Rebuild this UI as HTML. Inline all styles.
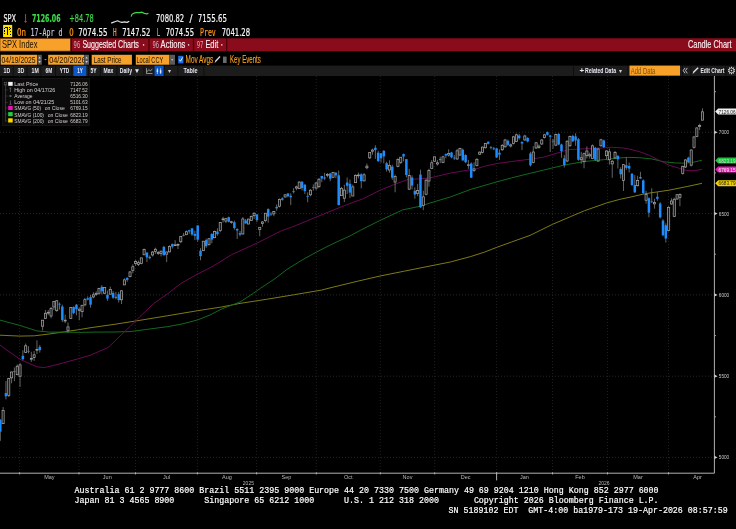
<!DOCTYPE html>
<html><head><meta charset="utf-8"><title>SPX Index Candle Chart</title>
<style>html,body{margin:0;padding:0;background:#000;width:736px;height:529px;overflow:hidden}svg{display:block}</style>
</head><body>
<svg width="736" height="529" viewBox="0 0 736 529" font-family="'Liberation Sans', Arial, sans-serif"><text x="3.40" y="21.90" font-size="10.9" fill="#f6f6f6" stroke="#f6f6f6" stroke-width="0.22" font-family="'DejaVu Sans', sans-serif" textLength="12.60" lengthAdjust="spacingAndGlyphs">SPX</text>
<rect x="25.05" y="14" width="1.0" height="8.2" fill="#e4281e"/><path d="M23.9 20.9 H27.1 L25.6 23.1 Z" fill="#e4281e"/>
<text x="32.00" y="21.90" font-size="11.0" fill="#3ddc4a" stroke="#3ddc4a" stroke-width="0.22" font-family="'DejaVu Sans', sans-serif" font-weight="bold" textLength="28.60" lengthAdjust="spacingAndGlyphs">7126.06</text>
<text x="69.30" y="21.90" font-size="10.9" fill="#3ddc4a" stroke="#3ddc4a" stroke-width="0.22" font-family="'DejaVu Sans', sans-serif" textLength="24.40" lengthAdjust="spacingAndGlyphs">+84.78</text>
<polyline points="111.2,23.1 113.1,22.4 115.4,21.5 117.7,20.8 119.6,21.7 121.9,22.4 124.6,21.9 127,22.4 129.3,21.2" stroke="#e0e0e0" stroke-width="1.2" fill="none" stroke-linejoin="round"/>
<polyline points="131.1,16.6 132,14.3 133.9,13.2 136.2,12.7 139.7,12.7 142,12.2 144.3,13.4 146.6,13.9 148.4,13.4" stroke="#3ad848" stroke-width="1.2" fill="none" stroke-linejoin="round"/>
<text x="156.00" y="21.90" font-size="10.9" fill="#f6f6f6" stroke="#f6f6f6" stroke-width="0.22" font-family="'DejaVu Sans', sans-serif" textLength="28.10" lengthAdjust="spacingAndGlyphs">7080.82</text>
<text x="189.60" y="21.90" font-size="10.9" fill="#f6f6f6" stroke="#f6f6f6" stroke-width="0.22" font-family="'DejaVu Sans', sans-serif" textLength="3.00" lengthAdjust="spacingAndGlyphs">/</text>
<text x="197.80" y="21.90" font-size="10.9" fill="#f6f6f6" stroke="#f6f6f6" stroke-width="0.22" font-family="'DejaVu Sans', sans-serif" textLength="29.20" lengthAdjust="spacingAndGlyphs">7155.65</text>
<rect x="3.1" y="24.9" width="9.1" height="12.2" fill="#ffe300"/>
<g fill="#0a0a0a"><rect x="5" y="27" width="1" height="1"/><rect x="4" y="28" width="1" height="1"/><rect x="4" y="30" width="1" height="1"/><rect x="4" y="31" width="1" height="1"/><rect x="4" y="33" width="1" height="1"/><rect x="6" y="27" width="1" height="1"/><rect x="9" y="27" width="1" height="1"/><rect x="10" y="28" width="1" height="1"/><rect x="9" y="29" width="1" height="1"/><rect x="10" y="31" width="1" height="1"/><rect x="10" y="34" width="1" height="1"/><rect x="7" y="27" width="1" height="8"/></g>
<text x="17.10" y="35.90" font-size="10.9" fill="#ff9a1c" stroke="#ff9a1c" stroke-width="0.22" font-family="'DejaVu Sans Mono', monospace" textLength="9.00" lengthAdjust="spacingAndGlyphs">On</text>
<text x="30.50" y="35.90" font-size="10.9" fill="#c4c4da" stroke="#c4c4da" stroke-width="0.22" font-family="'DejaVu Sans Mono', monospace" textLength="31.90" lengthAdjust="spacingAndGlyphs">17-Apr d</text>
<text x="69.20" y="35.90" font-size="10.9" fill="#ff9a1c" stroke="#ff9a1c" stroke-width="0.22" font-family="'DejaVu Sans Mono', monospace" textLength="4.40" lengthAdjust="spacingAndGlyphs">O</text>
<text x="78.30" y="35.90" font-size="10.9" fill="#f6f6f6" stroke="#f6f6f6" stroke-width="0.22" font-family="'DejaVu Sans', sans-serif" textLength="29.30" lengthAdjust="spacingAndGlyphs">7074.55</text>
<text x="113.00" y="35.90" font-size="10.9" fill="#ff9a1c" stroke="#ff9a1c" stroke-width="0.22" font-family="'DejaVu Sans Mono', monospace" textLength="3.60" lengthAdjust="spacingAndGlyphs">H</text>
<text x="122.20" y="35.90" font-size="10.9" fill="#f6f6f6" stroke="#f6f6f6" stroke-width="0.22" font-family="'DejaVu Sans', sans-serif" textLength="28.20" lengthAdjust="spacingAndGlyphs">7147.52</text>
<text x="156.70" y="35.90" font-size="10.9" fill="#ff9a1c" stroke="#ff9a1c" stroke-width="0.22" font-family="'DejaVu Sans Mono', monospace" textLength="3.50" lengthAdjust="spacingAndGlyphs">L</text>
<text x="165.70" y="35.90" font-size="10.9" fill="#f6f6f6" stroke="#f6f6f6" stroke-width="0.22" font-family="'DejaVu Sans', sans-serif" textLength="28.40" lengthAdjust="spacingAndGlyphs">7074.55</text>
<text x="200.00" y="35.90" font-size="10.9" fill="#ff9a1c" stroke="#ff9a1c" stroke-width="0.22" font-family="'DejaVu Sans Mono', monospace" textLength="15.80" lengthAdjust="spacingAndGlyphs">Prev</text>
<text x="221.70" y="35.90" font-size="10.9" fill="#f6f6f6" stroke="#f6f6f6" stroke-width="0.22" font-family="'DejaVu Sans', sans-serif" textLength="28.40" lengthAdjust="spacingAndGlyphs">7041.28</text>
<rect x="0" y="38.3" width="736" height="13" fill="#8a0b1b"/>
<rect x="0" y="38.5" width="70.7" height="12.6" fill="#f7a12a"/>
<rect x="0" y="38.5" width="70.7" height="12.6" fill="none" stroke="#5a3000" stroke-width="0.6"/>
<text x="2.00" y="48.30" font-size="11.2" fill="#1a1000" textLength="35.50" lengthAdjust="spacingAndGlyphs">SPX Index</text>
<rect x="70.60000000000001" y="38.3" width="1.2" height="13" fill="#4a0008"/>
<rect x="148.4" y="38.3" width="1.2" height="13" fill="#4a0008"/>
<rect x="192.9" y="38.3" width="1.2" height="13" fill="#4a0008"/>
<rect x="226.1" y="38.3" width="1.2" height="13" fill="#4a0008"/>
<text x="73.60" y="47.90" font-size="9.5" fill="#cdb4bc" font-family="'DejaVu Sans Mono', monospace" textLength="6.60" lengthAdjust="spacingAndGlyphs">96</text>
<text x="82.40" y="47.80" font-size="11.2" fill="#fbf4f6" stroke="#fbf4f6" stroke-width="0.15" textLength="56.50" lengthAdjust="spacingAndGlyphs">Suggested Charts</text>
<circle cx="143.6" cy="44.9" r="0.8" fill="#e8d0d4"/>
<text x="152.50" y="47.90" font-size="9.5" fill="#cdb4bc" font-family="'DejaVu Sans Mono', monospace" textLength="6.60" lengthAdjust="spacingAndGlyphs">96</text>
<text x="160.60" y="47.80" font-size="11.2" fill="#fbf4f6" stroke="#fbf4f6" stroke-width="0.15" textLength="24.80" lengthAdjust="spacingAndGlyphs">Actions</text>
<circle cx="188.6" cy="44.9" r="0.8" fill="#e8d0d4"/>
<text x="196.80" y="47.90" font-size="9.5" fill="#cdb4bc" font-family="'DejaVu Sans Mono', monospace" textLength="6.60" lengthAdjust="spacingAndGlyphs">97</text>
<text x="205.40" y="47.80" font-size="11.2" fill="#fbf4f6" stroke="#fbf4f6" stroke-width="0.15" textLength="12.80" lengthAdjust="spacingAndGlyphs">Edit</text>
<circle cx="221.8" cy="44.9" r="0.8" fill="#e8d0d4"/>
<text x="688.00" y="47.80" font-size="11.2" fill="#fbf4f6" stroke="#fbf4f6" stroke-width="0.15" textLength="43.50" lengthAdjust="spacingAndGlyphs">Candle Chart</text>
<rect x="0.7" y="54.8" width="36.30" height="9.9" fill="#f7a12a"/>
<text x="1.60" y="62.90" font-size="9" fill="#1a1000" textLength="34.00" lengthAdjust="spacingAndGlyphs">04/19/2025</text>
<rect x="37.4" y="54.8" width="4.4" height="9.9" fill="#5a5a5a"/><path d="M38.4 58.6 L39.6 56.6 L40.8 58.6 Z M38.4 60.9 L39.6 62.9 L40.8 60.9 Z" fill="#cfcfcf"/>
<rect x="44.6" y="59.2" width="1.8" height="0.9" fill="#f7a12a"/>
<rect x="48.2" y="54.8" width="35.8" height="9.9" fill="#f7a12a"/>
<svg x="48.2" y="54.8" width="35.8" height="9.9" overflow="hidden">
<text x="1.00" y="8.10" font-size="9" fill="#1a1000" textLength="36.50" lengthAdjust="spacingAndGlyphs">04/20/2026</text>
</svg>
<rect x="84.2" y="54.8" width="4.8" height="9.9" fill="#5a5a5a"/><path d="M85.4 58.6 L86.6 56.6 L87.8 58.6 Z M85.4 60.9 L86.6 62.9 L87.8 60.9 Z" fill="#cfcfcf"/>
<rect x="91.7" y="54.8" width="40.20" height="9.9" fill="#f7a12a"/>
<text x="93.80" y="62.90" font-size="9" fill="#1a1000" textLength="27.80" lengthAdjust="spacingAndGlyphs">Last Price</text>
<rect x="135.8" y="54.8" width="33.60" height="9.9" fill="#f7a12a"/>
<text x="136.40" y="62.90" font-size="9" fill="#1a1000" textLength="26.80" lengthAdjust="spacingAndGlyphs">Local CCY</text>
<rect x="169.4" y="54.8" width="5.6" height="9.9" fill="#5a5a5a"/><path d="M171 59.2 L172.2 60.8 L173.4 59.2 Z" fill="#d0d0d0"/>
<rect x="178.2" y="55.8" width="5.2" height="7.6" fill="#1d6fe0"/><path d="M179.2 59.6 L180.6 61.2 L182.6 57.4" stroke="#fff" stroke-width="0.9" fill="none"/>
<text x="185.60" y="63.00" font-size="10" fill="#ffa51f" stroke="#ffa51f" stroke-width="0.12" textLength="27.60" lengthAdjust="spacingAndGlyphs">Mov Avgs</text>
<path d="M214.5 63.2 L215.6 60.2 L219.5 56.0 L220.5 57.0 L216.6 61.3 Z" fill="#d8d8d8"/>
<rect x="223.0" y="56.6" width="3.6" height="6.4" fill="#6a6a6a"/>
<text x="230.00" y="63.00" font-size="10" fill="#ffa51f" stroke="#ffa51f" stroke-width="0.12" textLength="30.80" lengthAdjust="spacingAndGlyphs">Key Events</text>
<rect x="0" y="65.6" width="736" height="10.4" fill="#1c1c1c"/>
<rect x="12.8" y="65.6" width="0.8" height="10.4" fill="#0c0c0c"/>
<rect x="26.5" y="65.6" width="0.8" height="10.4" fill="#0c0c0c"/>
<rect x="40.5" y="65.6" width="0.8" height="10.4" fill="#0c0c0c"/>
<rect x="55.0" y="65.6" width="0.8" height="10.4" fill="#0c0c0c"/>
<rect x="71.5" y="65.6" width="0.8" height="10.4" fill="#0c0c0c"/>
<rect x="88.2" y="65.6" width="0.8" height="10.4" fill="#0c0c0c"/>
<rect x="100.0" y="65.6" width="0.8" height="10.4" fill="#0c0c0c"/>
<rect x="116.5" y="65.6" width="0.8" height="10.4" fill="#0c0c0c"/>
<rect x="143.5" y="65.6" width="0.8" height="10.4" fill="#0c0c0c"/>
<rect x="153.8" y="65.6" width="0.8" height="10.4" fill="#0c0c0c"/>
<rect x="164.0" y="65.6" width="0.8" height="10.4" fill="#0c0c0c"/>
<rect x="177.5" y="65.6" width="0.8" height="10.4" fill="#0c0c0c"/>
<rect x="203.5" y="65.6" width="0.8" height="10.4" fill="#0c0c0c"/>
<rect x="573.0" y="65.6" width="0.8" height="10.4" fill="#0c0c0c"/>
<rect x="627.5" y="65.6" width="0.8" height="10.4" fill="#0c0c0c"/>
<rect x="682.0" y="65.6" width="0.8" height="10.4" fill="#0c0c0c"/>
<rect x="690.5" y="65.6" width="0.8" height="10.4" fill="#0c0c0c"/>
<rect x="725.5" y="65.6" width="0.8" height="10.4" fill="#0c0c0c"/>
<rect x="73.4" y="65.6" width="12.9" height="10.4" fill="#0b57c8"/>
<rect x="154.5" y="65.6" width="9.0" height="10.4" fill="#0b57c8"/>
<text x="3.60" y="73.30" font-size="7" fill="#e6e6f0" font-weight="bold" textLength="6.60" lengthAdjust="spacingAndGlyphs">1D</text>
<text x="17.60" y="73.30" font-size="7" fill="#e6e6f0" font-weight="bold" textLength="6.80" lengthAdjust="spacingAndGlyphs">3D</text>
<text x="31.60" y="73.30" font-size="7" fill="#e6e6f0" font-weight="bold" textLength="7.20" lengthAdjust="spacingAndGlyphs">1M</text>
<text x="45.60" y="73.30" font-size="7" fill="#e6e6f0" font-weight="bold" textLength="6.80" lengthAdjust="spacingAndGlyphs">6M</text>
<text x="59.80" y="73.30" font-size="7" fill="#e6e6f0" font-weight="bold" textLength="9.50" lengthAdjust="spacingAndGlyphs">YTD</text>
<text x="77.20" y="73.30" font-size="7" fill="#e6e6f0" font-weight="bold" textLength="5.70" lengthAdjust="spacingAndGlyphs">1Y</text>
<text x="90.40" y="73.30" font-size="7" fill="#e6e6f0" font-weight="bold" textLength="6.10" lengthAdjust="spacingAndGlyphs">5Y</text>
<text x="103.60" y="73.30" font-size="7" fill="#e6e6f0" font-weight="bold" textLength="9.80" lengthAdjust="spacingAndGlyphs">Max</text>
<text x="119.80" y="73.30" font-size="7" fill="#e6e6f0" font-weight="bold" textLength="12.20" lengthAdjust="spacingAndGlyphs">Daily</text>
<text x="183.50" y="73.30" font-size="7" fill="#e6e6f0" font-weight="bold" textLength="14.00" lengthAdjust="spacingAndGlyphs">Table</text>
<text x="133.80" y="73.40" font-size="6.5" fill="#e6e6f0">▼</text>
<path d="M146.5 73.5 V68.2 M146.5 73.5 H152.5 M147 71.8 L148.8 69.6 L150.5 71.0 L152.3 68.8" stroke="#bdbdbd" stroke-width="0.7" fill="none"/>
<path d="M157.4 68.2 V74 M160.6 68.2 V74" stroke="#e8e8f0" stroke-width="0.7"/><rect x="156.7" y="69.5" width="1.4" height="2.6" fill="#e8e8f0"/><rect x="159.9" y="70.2" width="1.4" height="2.6" fill="#e8e8f0"/>
<text x="168.30" y="72.80" font-size="6" fill="#d0d0d0">▾</text>
<text x="579.50" y="73.30" font-size="8" fill="#e6e6f0" font-weight="bold">+</text>
<text x="585.00" y="73.30" font-size="7" fill="#e6e6f0" font-weight="bold" textLength="31.00" lengthAdjust="spacingAndGlyphs">Related Data</text>
<text x="619.00" y="72.80" font-size="6" fill="#d0d0d0">▾</text>
<rect x="629.5" y="65.6" width="50.5" height="10.0" fill="#f7a12a"/>
<text x="630.80" y="73.90" font-size="9.8" fill="#7e5208" textLength="24.60" lengthAdjust="spacingAndGlyphs">Add Data</text>
<path d="M685.0 67.9 L683.2 70.6 L685.0 73.3 M687.3 67.9 L685.5 70.6 L687.3 73.3" stroke="#d8d8d8" stroke-width="0.85" fill="none"/>
<path d="M692.6 74 L693.3 71.6 L697.6 67.3 L698.6 68.3 L694.3 72.6 Z" fill="#e8e8e8"/>
<text x="700.50" y="73.30" font-size="7" fill="#e6e6f0" font-weight="bold" textLength="23.80" lengthAdjust="spacingAndGlyphs">Edit Chart</text>
<text x="726.60" y="74.20" font-size="9.5" fill="#d8d8d8">⚙</text>
<g stroke="#2a2a2a" stroke-width="0.9" stroke-dasharray="1 2">
<line x1="0" y1="132.3" x2="714" y2="132.3"/>
<line x1="0" y1="213.6" x2="714" y2="213.6"/>
<line x1="0" y1="294.9" x2="714" y2="294.9"/>
<line x1="0" y1="376.2" x2="714" y2="376.2"/>
<line x1="0" y1="457.4" x2="714" y2="457.4"/>
</g><g stroke="#222" stroke-width="0.9" stroke-dasharray="1 2">
<line x1="19.6" y1="76" x2="19.6" y2="473"/>
<line x1="79.0" y1="76" x2="79.0" y2="473"/>
<line x1="135.5" y1="76" x2="135.5" y2="473"/>
<line x1="197.4" y1="76" x2="197.4" y2="473"/>
<line x1="256.6" y1="76" x2="256.6" y2="473"/>
<line x1="316.3" y1="76" x2="316.3" y2="473"/>
<line x1="380.3" y1="76" x2="380.3" y2="473"/>
<line x1="434.7" y1="76" x2="434.7" y2="473"/>
<line x1="496.6" y1="76" x2="496.6" y2="473"/>
<line x1="552.5" y1="76" x2="552.5" y2="473"/>
<line x1="607.5" y1="76" x2="607.5" y2="473"/>
<line x1="668.5" y1="76" x2="668.5" y2="473"/>
</g>
<polyline points="0,335.2 19.7,336.1 34.4,335.8 49.2,334 64,331.9 78.7,329.7 90,327.8 114,324.4 140,320.3 167.2,315.8 197.7,310.7 221.5,307 240,303.4 267.2,299.2 294.3,294.7 321.5,290.1 330,287.9 357.2,281.3 381,275.8 404.7,271.1 430,266 450.4,262 470.8,256.5 484.3,252.2 496.6,247.4 511.5,242 530,235.4 552.4,224.4 570.8,216.5 584.3,210.8 606.8,202.9 620,199.3 630,197.2 644.5,193.8 668.9,190.2 687.2,186.5 702,183.3" stroke="#7f7a12" stroke-width="1.0" fill="none" stroke-linejoin="round"/>
<polyline points="0,320.1 19.7,325.4 36.9,330.9 49.2,332.1 64,332.1 78.7,332.4 95,332.1 114,332 130,331.6 146.8,329.4 167.2,326.7 182,324 197.7,319.9 210,315 221.5,309 240,302 253.6,293.1 260.4,288.3 274.5,279 287,269.4 300.6,260.9 316,252.3 326.8,246.7 338.1,241.3 350,235.9 360.3,230.3 379.9,220.5 402.6,209.9 420.8,206.1 430,203 450.4,196.9 470.8,189.4 496.6,181.9 511.5,177.9 530,173.3 543.6,170.1 564,165.1 584.3,161.5 604.7,159.6 615,158.3 627.2,157.4 639.4,157.7 651.7,158.9 663.9,161.8 676.1,163 685.9,163.2 694.5,162 702,160.2" stroke="#126a1e" stroke-width="1.0" fill="none" stroke-linejoin="round"/>
<polyline points="0,345.1 19.7,359.2 36.9,366.8 44.3,367.6 59,364.1 78.7,358.6 90,355.3 108,347.6 122,334.2 130,326.5 140,316.5 153.6,303.6 167.2,294.1 180.8,283.5 197,274.3 210.9,267.4 231.6,254.7 257,243.1 270,236.5 281.4,230.8 292.7,226.8 309.2,220 330,211.4 345.1,205.4 363.3,198.6 379.9,190.3 395,184.2 407.2,179.7 417.7,178.9 430,177.9 450.4,173.1 468,170.1 473.5,169.7 484.3,166.3 496.6,163.6 511.5,161.5 530,159.2 543.6,157.2 557.2,153.1 568,149.7 584.3,148.8 597.9,148.3 611.5,147.3 622.4,147.9 627.2,148.6 639.4,151.6 649.2,155.3 659,160.2 668.8,165.1 678.6,168.1 685.9,170.3 693.2,170.8 702,169.4" stroke="#6a0852" stroke-width="1.0" fill="none" stroke-linejoin="round"/>
<path d="M0.30 419.54V440.88M3.12 407.07V423.64M5.94 381.05V399.40M8.76 377.85V396.94M11.58 371.56V383.30M14.40 367.40V381.22M17.22 364.43V375.20M20.04 362.82V386.98M22.86 350.29V360.30M25.68 343.50V352.99M28.50 346.24V353.34M31.32 351.76V361.91M34.14 351.01V360.91M36.96 340.35V354.05M39.78 344.97V352.64M42.60 320.18V330.52M45.42 310.03V318.73M48.24 310.05V315.17M51.06 307.06V318.27M53.88 301.62V310.02M56.70 299.95V311.81M59.52 302.48V309.60M62.34 304.63V322.03M65.16 314.67V323.16M67.98 322.56V332.66M70.80 307.15V318.57M73.62 306.39V314.19M76.44 304.09V315.36M79.26 307.51V320.26M82.08 305.03V317.37M84.90 297.88V306.39M87.72 296.40V300.36M90.54 294.90V307.66M93.36 292.11V298.32M96.18 291.39V295.80M99.00 287.86V294.81M101.82 285.19V294.47M104.64 287.47V294.22M107.46 290.60V300.83M110.28 286.59V294.20M113.10 291.07V298.95M115.92 291.88V299.42M118.74 291.89V302.56M121.56 290.27V304.08M124.38 278.34V284.90M127.20 277.21V281.83M130.02 271.03V277.41M132.84 264.34V273.34M135.66 259.89V265.92M138.48 260.59V266.06M141.30 257.85V264.24M144.12 248.58V254.79M146.94 252.21V262.06M149.76 255.40V259.42M152.58 251.00V256.51M155.40 247.67V253.91M158.22 251.05V254.98M161.04 250.56V256.38M163.86 245.86V255.40M166.68 251.59V262.08M169.50 245.37V252.42M172.32 243.55V248.47M175.14 240.22V245.47M177.96 243.46V249.06M180.78 236.23V243.24M183.60 232.87V236.24M186.42 230.51V234.95M189.24 229.66V233.80M192.06 228.23V235.72M194.88 230.75V240.07M197.70 225.44V241.77M200.52 248.17V260.28M203.34 241.13V250.68M206.16 238.59V247.81M208.98 237.93V245.73M211.80 233.18V243.27M214.62 230.62V237.86M217.44 228.32V235.67M220.26 222.26V232.14M223.08 216.78V222.51M225.90 217.83V223.15M228.72 216.61V222.51M231.54 220.83V223.72M234.36 220.64V229.79M237.18 228.46V238.96M240.00 230.90V236.32M242.82 217.06V234.59M245.64 218.96V223.64M248.46 218.77V224.06M251.28 215.57V220.67M254.10 212.24V218.92M256.92 214.38V222.19M259.74 227.14V236.24M262.56 221.11V226.74M265.38 213.16V222.42M268.20 208.27V222.79M271.02 212.18V215.93M273.84 211.44V216.25M276.66 204.48V210.66M279.48 198.48V207.44M282.30 197.29V200.66M285.12 194.07V197.38M287.94 192.93V197.29M290.76 193.30V205.14M293.58 188.18V193.36M296.40 185.65V190.25M299.22 181.14V188.71M302.04 181.52V190.34M304.86 184.29V194.10M307.68 192.36V202.32M310.50 189.19V196.31M313.32 184.39V190.58M316.14 182.19V190.11M318.96 178.04V188.18M321.78 175.87V182.17M324.60 172.80V180.14M327.42 173.02V177.31M330.24 172.84V181.16M333.06 172.33V178.06M335.88 172.12V178.17M338.70 170.51V205.32M341.52 186.86V195.65M344.34 184.71V202.09M347.16 177.44V194.02M349.98 179.56V198.04M352.80 184.60V196.04M355.62 174.27V182.78M358.44 172.51V178.36M361.26 173.30V188.41M364.08 172.94V181.35M366.90 163.61V169.40M369.72 152.59V159.02M372.54 148.68V154.68M375.36 145.25V158.79M378.18 150.76V161.80M381.00 153.21V162.65M383.82 150.02V163.43M386.64 161.84V171.55M389.46 160.26V172.77M392.28 164.65V179.76M395.10 174.56V192.28M397.92 158.31V167.25M400.74 157.17V164.00M403.56 153.59V161.40M406.38 158.96V177.33M409.20 168.87V189.84M412.02 175.38V189.36M414.84 187.40V198.78M417.66 183.83V196.18M420.48 169.69V207.89M423.30 190.66V210.16M426.12 178.63V195.37M428.94 168.71V186.59M431.76 160.10V168.55M434.58 156.85V161.88M437.40 159.93V165.62M440.22 156.68V163.18M443.04 155.71V163.18M445.86 153.43V158.31M448.68 149.37V156.68M451.50 151.81V158.31M454.32 155.06V159.93M457.14 148.88V159.93M459.96 147.74V155.87M462.78 148.56V160.75M465.60 154.24V163.18M468.42 159.93V168.87M471.24 162.37V178.14M474.06 162.37V172.12M476.88 158.31V166.44M479.70 151.48V155.06M482.52 146.60V153.43M485.34 143.03V148.56M488.16 141.08V144.49M490.98 146.12V149.37M493.80 146.93V150.18M496.62 147.74V157.82M499.44 149.37V159.93M502.26 144.00V150.99M505.08 138.80V147.74M507.90 139.61V146.12M510.72 143.52V147.50M513.54 135.88V144.49M516.36 133.60V142.05M519.18 133.93V139.61M522.00 141.24V150.02M524.82 134.74V140.75M527.64 137.18V142.38M530.46 151.81V166.44M533.28 146.12V163.35M536.10 142.05V148.88M538.92 144.49V148.56M541.74 139.13V144.98M544.56 133.93V138.48M547.38 131.49V135.55M550.20 134.74V152.00M553.02 138.80V148.72M555.84 133.60V146.12M558.66 133.11V145.30M561.48 143.68V157.71M564.30 155.06V167.57M567.12 140.43V162.37M569.94 135.55V146.60M572.76 134.74V142.05M575.58 133.19V145.79M578.40 137.99V160.75M581.22 151.81V163.67M584.04 152.62V168.30M586.86 146.51V158.41M589.68 152.62V158.47M592.50 144.49V159.12M595.32 146.93V160.75M598.14 147.74V161.88M600.96 138.80V146.60M603.78 139.61V148.07M606.60 150.18V159.71M609.42 148.56V164.65M612.24 159.93V177.81M615.06 150.99V158.63M617.88 155.06V168.55M620.70 167.25V178.46M623.52 164.00V190.98M626.34 157.33V169.85M629.16 162.60V172.50M631.98 172.94V185.94M634.80 175.10V193.00M637.62 175.80V186.43M640.44 171.80V179.00M643.26 179.44V194.07M646.08 190.90V203.59M648.90 197.32V217.31M651.72 188.22V202.85M654.54 198.78V208.70M657.36 192.20V200.80M660.18 202.20V218.45M663.00 219.26V236.33M665.82 223.33V242.51M668.64 206.26V231.46M671.46 198.20V204.80M674.28 197.65V217.15M677.10 194.07V199.76M679.92 193.42V206.26M682.74 165.62V174.56M685.56 159.12V168.06M688.38 156.68V162.86M691.20 149.37V166.44M694.02 136.36V148.56M696.84 127.42V137.18M699.66 123.68V130.19M702.48 108.32V120.18" stroke="#868686" stroke-width="0.75" fill="none"/>
<g fill="#141414" stroke="#a2a2a2" stroke-width="0.75"><rect x="2.07" y="410.62" width="2.1" height="13.02"/><rect x="7.71" y="378.60" width="2.1" height="16.81"/><rect x="10.53" y="372.03" width="2.1" height="5.77"/><rect x="16.17" y="366.24" width="2.1" height="8.45"/><rect x="18.99" y="364.90" width="2.1" height="11.32"/><rect x="24.63" y="345.78" width="2.1" height="6.69"/><rect x="30.27" y="358.43" width="2.1" height="0.80"/><rect x="33.09" y="354.79" width="2.1" height="2.70"/><rect x="35.91" y="349.40" width="2.1" height="0.80"/><rect x="41.55" y="320.18" width="2.1" height="6.03"/><rect x="44.37" y="313.29" width="2.1" height="5.27"/><rect x="47.19" y="312.31" width="2.1" height="0.82"/><rect x="50.01" y="308.35" width="2.1" height="7.65"/><rect x="52.83" y="301.62" width="2.1" height="5.35"/><rect x="55.65" y="300.77" width="2.1" height="9.87"/><rect x="64.11" y="320.19" width="2.1" height="0.80"/><rect x="66.93" y="326.90" width="2.1" height="3.40"/><rect x="69.75" y="307.60" width="2.1" height="10.97"/><rect x="78.21" y="309.20" width="2.1" height="1.30"/><rect x="81.03" y="305.26" width="2.1" height="6.38"/><rect x="83.85" y="299.67" width="2.1" height="5.17"/><rect x="92.31" y="294.79" width="2.1" height="2.16"/><rect x="95.13" y="293.60" width="2.1" height="0.80"/><rect x="97.95" y="288.54" width="2.1" height="4.70"/><rect x="103.59" y="287.49" width="2.1" height="5.75"/><rect x="109.23" y="289.47" width="2.1" height="4.73"/><rect x="120.51" y="290.76" width="2.1" height="9.02"/><rect x="123.33" y="279.87" width="2.1" height="5.03"/><rect x="128.97" y="271.93" width="2.1" height="4.70"/><rect x="131.79" y="266.72" width="2.1" height="3.64"/><rect x="134.61" y="261.54" width="2.1" height="1.88"/><rect x="137.43" y="262.66" width="2.1" height="1.75"/><rect x="140.25" y="257.88" width="2.1" height="5.48"/><rect x="143.07" y="249.44" width="2.1" height="5.35"/><rect x="151.53" y="252.06" width="2.1" height="2.89"/><rect x="154.35" y="249.26" width="2.1" height="2.25"/><rect x="157.17" y="252.56" width="2.1" height="0.80"/><rect x="159.99" y="251.20" width="2.1" height="2.18"/><rect x="165.63" y="251.99" width="2.1" height="2.20"/><rect x="168.45" y="246.51" width="2.1" height="5.34"/><rect x="174.09" y="244.84" width="2.1" height="0.80"/><rect x="176.91" y="244.37" width="2.1" height="0.80"/><rect x="179.73" y="236.51" width="2.1" height="5.20"/><rect x="185.37" y="231.68" width="2.1" height="3.03"/><rect x="202.29" y="241.22" width="2.1" height="9.47"/><rect x="207.93" y="238.76" width="2.1" height="5.81"/><rect x="213.57" y="231.54" width="2.1" height="6.15"/><rect x="219.21" y="222.39" width="2.1" height="8.22"/><rect x="222.03" y="218.89" width="2.1" height="0.80"/><rect x="224.85" y="218.69" width="2.1" height="2.40"/><rect x="230.49" y="221.71" width="2.1" height="0.80"/><rect x="241.77" y="218.95" width="2.1" height="15.04"/><rect x="247.41" y="219.11" width="2.1" height="4.95"/><rect x="250.23" y="216.60" width="2.1" height="3.94"/><rect x="253.05" y="213.27" width="2.1" height="2.43"/><rect x="258.69" y="227.30" width="2.1" height="2.28"/><rect x="261.51" y="221.99" width="2.1" height="1.42"/><rect x="264.33" y="213.24" width="2.1" height="7.41"/><rect x="272.79" y="211.53" width="2.1" height="2.35"/><rect x="278.43" y="199.36" width="2.1" height="6.90"/><rect x="284.07" y="194.84" width="2.1" height="2.19"/><rect x="295.35" y="186.86" width="2.1" height="1.17"/><rect x="298.17" y="182.08" width="2.1" height="6.58"/><rect x="309.45" y="190.22" width="2.1" height="4.61"/><rect x="315.09" y="182.94" width="2.1" height="5.12"/><rect x="317.91" y="179.24" width="2.1" height="7.42"/><rect x="326.37" y="174.47" width="2.1" height="0.80"/><rect x="332.01" y="172.33" width="2.1" height="4.90"/><rect x="340.47" y="188.43" width="2.1" height="7.22"/><rect x="343.29" y="190.12" width="2.1" height="8.12"/><rect x="351.75" y="186.92" width="2.1" height="9.12"/><rect x="354.57" y="175.35" width="2.1" height="7.30"/><rect x="357.39" y="174.97" width="2.1" height="0.80"/><rect x="363.03" y="174.82" width="2.1" height="6.07"/><rect x="365.85" y="166.16" width="2.1" height="1.61"/><rect x="368.67" y="152.59" width="2.1" height="5.27"/><rect x="371.49" y="150.04" width="2.1" height="1.18"/><rect x="388.41" y="165.41" width="2.1" height="4.60"/><rect x="394.05" y="176.38" width="2.1" height="5.66"/><rect x="396.87" y="159.54" width="2.1" height="7.06"/><rect x="399.69" y="157.23" width="2.1" height="5.14"/><rect x="408.15" y="175.52" width="2.1" height="13.67"/><rect x="416.61" y="190.47" width="2.1" height="3.11"/><rect x="422.25" y="196.83" width="2.1" height="8.61"/><rect x="425.07" y="180.23" width="2.1" height="14.00"/><rect x="427.89" y="170.36" width="2.1" height="10.71"/><rect x="430.71" y="162.76" width="2.1" height="5.79"/><rect x="433.53" y="156.83" width="2.1" height="4.40"/><rect x="436.35" y="162.76" width="2.1" height="1.24"/><rect x="441.99" y="156.85" width="2.1" height="5.53"/><rect x="447.63" y="153.43" width="2.1" height="1.63"/><rect x="456.09" y="150.83" width="2.1" height="8.13"/><rect x="458.91" y="148.39" width="2.1" height="6.66"/><rect x="467.37" y="164.81" width="2.1" height="0.81"/><rect x="473.01" y="168.87" width="2.1" height="1.63"/><rect x="475.83" y="159.28" width="2.1" height="6.34"/><rect x="478.65" y="152.13" width="2.1" height="2.11"/><rect x="481.47" y="147.09" width="2.1" height="5.36"/><rect x="484.29" y="143.35" width="2.1" height="4.39"/><rect x="501.21" y="145.40" width="2.1" height="4.29"/><rect x="504.03" y="140.00" width="2.1" height="6.79"/><rect x="509.67" y="144.82" width="2.1" height="1.19"/><rect x="512.49" y="136.80" width="2.1" height="6.71"/><rect x="515.31" y="134.80" width="2.1" height="6.70"/><rect x="523.77" y="136.01" width="2.1" height="4.00"/><rect x="532.23" y="152.00" width="2.1" height="10.60"/><rect x="535.05" y="142.80" width="2.1" height="5.20"/><rect x="537.87" y="146.12" width="2.1" height="1.30"/><rect x="540.69" y="140.00" width="2.1" height="4.00"/><rect x="543.51" y="134.80" width="2.1" height="2.70"/><rect x="554.79" y="134.61" width="2.1" height="10.53"/><rect x="566.07" y="141.21" width="2.1" height="19.80"/><rect x="568.89" y="136.53" width="2.1" height="9.27"/><rect x="580.17" y="157.71" width="2.1" height="2.00"/><rect x="582.99" y="153.69" width="2.1" height="8.03"/><rect x="585.81" y="150.99" width="2.1" height="4.71"/><rect x="588.63" y="154.73" width="2.1" height="1.14"/><rect x="591.45" y="145.79" width="2.1" height="12.61"/><rect x="597.09" y="148.99" width="2.1" height="12.01"/><rect x="599.91" y="139.79" width="2.1" height="6.00"/><rect x="605.55" y="150.99" width="2.1" height="4.71"/><rect x="608.37" y="151.81" width="2.1" height="7.90"/><rect x="611.19" y="161.23" width="2.1" height="2.67"/><rect x="614.01" y="152.62" width="2.1" height="5.36"/><rect x="622.47" y="164.65" width="2.1" height="15.77"/><rect x="636.57" y="180.41" width="2.1" height="5.28"/><rect x="645.03" y="194.56" width="2.1" height="5.69"/><rect x="653.49" y="202.60" width="2.1" height="1.30"/><rect x="667.59" y="207.40" width="2.1" height="23.20"/><rect x="670.41" y="200.99" width="2.1" height="2.99"/><rect x="673.23" y="199.27" width="2.1" height="17.07"/><rect x="676.05" y="194.72" width="2.1" height="4.28"/><rect x="678.87" y="194.39" width="2.1" height="2.93"/><rect x="681.69" y="166.31" width="2.1" height="7.12"/><rect x="684.51" y="159.93" width="2.1" height="7.07"/><rect x="690.15" y="150.02" width="2.1" height="15.18"/><rect x="692.97" y="136.90" width="2.1" height="10.40"/><rect x="695.79" y="127.91" width="2.1" height="8.45"/><rect x="698.61" y="125.59" width="2.1" height="0.86"/><rect x="701.43" y="111.81" width="2.1" height="8.37"/></g>
<g fill="#1c8cff"><rect x="-0.95" y="419.54" width="2.5" height="12.15"/><rect x="4.69" y="393.04" width="2.5" height="3.26"/><rect x="13.15" y="371.01" width="2.5" height="0.80"/><rect x="21.61" y="355.78" width="2.5" height="3.41"/><rect x="27.25" y="350.88" width="2.5" height="0.80"/><rect x="38.53" y="346.89" width="2.5" height="3.24"/><rect x="58.27" y="303.79" width="2.5" height="0.80"/><rect x="61.09" y="306.55" width="2.5" height="13.56"/><rect x="72.37" y="306.96" width="2.5" height="6.00"/><rect x="75.19" y="304.71" width="2.5" height="4.42"/><rect x="86.47" y="298.27" width="2.5" height="1.32"/><rect x="89.29" y="297.18" width="2.5" height="7.54"/><rect x="100.57" y="286.82" width="2.5" height="4.41"/><rect x="106.21" y="294.76" width="2.5" height="3.83"/><rect x="111.85" y="292.88" width="2.5" height="4.78"/><rect x="114.67" y="296.81" width="2.5" height="1.15"/><rect x="117.49" y="294.13" width="2.5" height="5.94"/><rect x="125.95" y="277.91" width="2.5" height="1.96"/><rect x="145.69" y="252.63" width="2.5" height="4.84"/><rect x="148.51" y="256.87" width="2.5" height="1.32"/><rect x="162.61" y="246.85" width="2.5" height="8.38"/><rect x="171.07" y="243.98" width="2.5" height="2.62"/><rect x="182.35" y="234.93" width="2.5" height="0.85"/><rect x="187.99" y="230.21" width="2.5" height="1.29"/><rect x="190.81" y="228.31" width="2.5" height="6.26"/><rect x="193.63" y="233.92" width="2.5" height="1.94"/><rect x="196.45" y="225.44" width="2.5" height="14.24"/><rect x="199.27" y="250.68" width="2.5" height="5.48"/><rect x="204.91" y="240.10" width="2.5" height="6.11"/><rect x="210.55" y="234.01" width="2.5" height="5.58"/><rect x="216.19" y="231.51" width="2.5" height="2.64"/><rect x="227.47" y="217.14" width="2.5" height="4.60"/><rect x="233.11" y="222.22" width="2.5" height="5.76"/><rect x="235.93" y="228.92" width="2.5" height="1.59"/><rect x="238.75" y="233.06" width="2.5" height="1.62"/><rect x="244.39" y="220.46" width="2.5" height="2.98"/><rect x="255.67" y="214.38" width="2.5" height="5.66"/><rect x="266.95" y="209.11" width="2.5" height="7.47"/><rect x="269.77" y="213.72" width="2.5" height="0.80"/><rect x="275.41" y="206.83" width="2.5" height="1.54"/><rect x="281.05" y="198.23" width="2.5" height="1.64"/><rect x="286.69" y="193.47" width="2.5" height="2.75"/><rect x="289.51" y="195.81" width="2.5" height="1.45"/><rect x="292.33" y="191.19" width="2.5" height="0.94"/><rect x="300.79" y="181.58" width="2.5" height="6.49"/><rect x="303.61" y="184.66" width="2.5" height="6.49"/><rect x="306.43" y="195.88" width="2.5" height="0.80"/><rect x="312.07" y="186.94" width="2.5" height="0.80"/><rect x="320.53" y="175.98" width="2.5" height="2.59"/><rect x="323.35" y="177.47" width="2.5" height="1.03"/><rect x="328.99" y="173.58" width="2.5" height="5.11"/><rect x="334.63" y="172.74" width="2.5" height="2.62"/><rect x="337.45" y="175.29" width="2.5" height="29.75"/><rect x="345.91" y="182.55" width="2.5" height="3.22"/><rect x="348.73" y="183.80" width="2.5" height="8.79"/><rect x="360.01" y="174.33" width="2.5" height="6.83"/><rect x="374.11" y="147.74" width="2.5" height="2.34"/><rect x="376.93" y="152.69" width="2.5" height="8.49"/><rect x="379.75" y="153.21" width="2.5" height="5.07"/><rect x="382.57" y="150.86" width="2.5" height="5.50"/><rect x="385.39" y="163.23" width="2.5" height="6.20"/><rect x="391.03" y="166.60" width="2.5" height="11.16"/><rect x="402.31" y="154.08" width="2.5" height="2.45"/><rect x="405.13" y="159.12" width="2.5" height="15.85"/><rect x="410.77" y="177.49" width="2.5" height="8.06"/><rect x="413.59" y="190.82" width="2.5" height="3.69"/><rect x="419.23" y="174.56" width="2.5" height="32.71"/><rect x="438.97" y="158.96" width="2.5" height="1.14"/><rect x="444.61" y="154.08" width="2.5" height="1.46"/><rect x="450.25" y="152.46" width="2.5" height="4.88"/><rect x="453.07" y="157.66" width="2.5" height="0.80"/><rect x="461.53" y="149.69" width="2.5" height="10.73"/><rect x="464.35" y="155.06" width="2.5" height="7.15"/><rect x="469.99" y="163.51" width="2.5" height="14.14"/><rect x="486.91" y="141.89" width="2.5" height="1.95"/><rect x="489.73" y="146.93" width="2.5" height="0.81"/><rect x="492.55" y="148.39" width="2.5" height="0.81"/><rect x="495.37" y="148.39" width="2.5" height="9.10"/><rect x="498.19" y="152.70" width="2.5" height="2.03"/><rect x="506.65" y="140.80" width="2.5" height="4.01"/><rect x="517.93" y="135.50" width="2.5" height="2.70"/><rect x="520.75" y="142.00" width="2.5" height="1.51"/><rect x="526.39" y="137.99" width="2.5" height="3.51"/><rect x="529.21" y="153.43" width="2.5" height="11.87"/><rect x="546.13" y="132.20" width="2.5" height="2.60"/><rect x="548.95" y="135.50" width="2.5" height="1.30"/><rect x="551.77" y="140.75" width="2.5" height="0.80"/><rect x="557.41" y="133.93" width="2.5" height="10.57"/><rect x="560.23" y="144.49" width="2.5" height="6.50"/><rect x="563.05" y="158.41" width="2.5" height="6.60"/><rect x="571.51" y="135.88" width="2.5" height="5.36"/><rect x="574.33" y="136.36" width="2.5" height="4.06"/><rect x="577.15" y="139.21" width="2.5" height="20.50"/><rect x="594.07" y="147.81" width="2.5" height="11.90"/><rect x="602.53" y="140.49" width="2.5" height="6.60"/><rect x="616.63" y="156.03" width="2.5" height="3.25"/><rect x="619.45" y="169.04" width="2.5" height="5.27"/><rect x="625.09" y="165.20" width="2.5" height="2.70"/><rect x="627.91" y="165.95" width="2.5" height="2.60"/><rect x="630.73" y="173.80" width="2.5" height="11.20"/><rect x="633.55" y="185.00" width="2.5" height="7.28"/><rect x="639.19" y="177.00" width="2.5" height="1.46"/><rect x="642.01" y="180.41" width="2.5" height="12.58"/><rect x="647.65" y="198.20" width="2.5" height="14.50"/><rect x="650.47" y="201.47" width="2.5" height="0.80"/><rect x="656.11" y="196.83" width="2.5" height="1.95"/><rect x="658.93" y="203.50" width="2.5" height="13.82"/><rect x="661.75" y="220.60" width="2.5" height="14.60"/><rect x="664.57" y="225.28" width="2.5" height="13.22"/><rect x="687.13" y="157.71" width="2.5" height="4.34"/></g>
<path d="M0 473.2 H714.4 V76" stroke="#b0b0b0" stroke-width="1" fill="none"/>
<rect x="19.1" y="472.4" width="1" height="2" fill="#b0b0b0"/>
<rect x="78.5" y="472.4" width="1" height="2" fill="#b0b0b0"/>
<rect x="135.0" y="472.4" width="1" height="2" fill="#b0b0b0"/>
<rect x="196.9" y="472.4" width="1" height="2" fill="#b0b0b0"/>
<rect x="256.1" y="472.4" width="1" height="2" fill="#b0b0b0"/>
<rect x="315.8" y="472.4" width="1" height="2" fill="#b0b0b0"/>
<rect x="379.8" y="472.4" width="1" height="2" fill="#b0b0b0"/>
<rect x="434.2" y="472.4" width="1" height="2" fill="#b0b0b0"/>
<rect x="496.1" y="472.4" width="1" height="2" fill="#b0b0b0"/>
<rect x="552.0" y="472.4" width="1" height="2" fill="#b0b0b0"/>
<rect x="607.0" y="472.4" width="1" height="2" fill="#b0b0b0"/>
<rect x="668.0" y="472.4" width="1" height="2" fill="#b0b0b0"/>
<rect x="496.1" y="472.4" width="1" height="8" fill="#b0b0b0"/>
<text x="49.40" y="479.20" font-size="5.5" fill="#b8b8b8" text-anchor="middle">May</text>
<text x="107.30" y="479.20" font-size="5.5" fill="#b8b8b8" text-anchor="middle">Jun</text>
<text x="166.40" y="479.20" font-size="5.5" fill="#b8b8b8" text-anchor="middle">Jul</text>
<text x="227.00" y="479.20" font-size="5.5" fill="#b8b8b8" text-anchor="middle">Aug</text>
<text x="286.50" y="479.20" font-size="5.5" fill="#b8b8b8" text-anchor="middle">Sep</text>
<text x="348.30" y="479.20" font-size="5.5" fill="#b8b8b8" text-anchor="middle">Oct</text>
<text x="407.50" y="479.20" font-size="5.5" fill="#b8b8b8" text-anchor="middle">Nov</text>
<text x="465.60" y="479.20" font-size="5.5" fill="#b8b8b8" text-anchor="middle">Dec</text>
<text x="524.50" y="479.20" font-size="5.5" fill="#b8b8b8" text-anchor="middle">Jan</text>
<text x="580.00" y="479.20" font-size="5.5" fill="#b8b8b8" text-anchor="middle">Feb</text>
<text x="638.00" y="479.20" font-size="5.5" fill="#b8b8b8" text-anchor="middle">Mar</text>
<text x="697.50" y="479.20" font-size="5.5" fill="#b8b8b8" text-anchor="middle">Apr</text>
<text x="248.40" y="484.80" font-size="5" fill="#b8b8b8" text-anchor="middle">2025</text>
<text x="604.00" y="484.80" font-size="5" fill="#b8b8b8" text-anchor="middle">2026</text>
<path d="M714.4 130.70000000000002 L717.6 132.3 L714.4 133.9 Z" fill="#d0d0d0"/>
<text x="718.80" y="134.30" font-size="5.8" fill="#c8c8c8" textLength="10.40" lengthAdjust="spacingAndGlyphs">7000</text>
<path d="M714.4 212.0 L717.6 213.6 L714.4 215.2 Z" fill="#d0d0d0"/>
<text x="718.80" y="215.60" font-size="5.8" fill="#c8c8c8" textLength="10.40" lengthAdjust="spacingAndGlyphs">6500</text>
<path d="M714.4 293.29999999999995 L717.6 294.9 L714.4 296.5 Z" fill="#d0d0d0"/>
<text x="718.80" y="296.90" font-size="5.8" fill="#c8c8c8" textLength="10.40" lengthAdjust="spacingAndGlyphs">6000</text>
<path d="M714.4 374.59999999999997 L717.6 376.2 L714.4 377.8 Z" fill="#d0d0d0"/>
<text x="718.80" y="378.20" font-size="5.8" fill="#c8c8c8" textLength="10.40" lengthAdjust="spacingAndGlyphs">5500</text>
<path d="M714.4 455.79999999999995 L717.6 457.4 L714.4 459.0 Z" fill="#d0d0d0"/>
<text x="718.80" y="459.40" font-size="5.8" fill="#c8c8c8" textLength="10.40" lengthAdjust="spacingAndGlyphs">5000</text>
<rect x="714.4" y="91.2" width="1.6" height="1" fill="#a0a0a0"/>
<rect x="714.4" y="172.4" width="1.6" height="1" fill="#a0a0a0"/>
<rect x="714.4" y="253.7" width="1.6" height="1" fill="#a0a0a0"/>
<rect x="714.4" y="335.1" width="1.6" height="1" fill="#a0a0a0"/>
<rect x="714.4" y="416.3" width="1.6" height="1" fill="#a0a0a0"/>
<path d="M715.2 111.5 L718.2 108.5 H736 V114.5 H718.2 Z" fill="#f0f0f0"/>
<text x="718.60" y="113.60" font-size="5.8" fill="#202020" textLength="17.00" lengthAdjust="spacingAndGlyphs">7126.06</text>
<path d="M715.2 160.6 L718.2 157.6 H736 V163.6 H718.2 Z" fill="#1fc040"/>
<text x="718.60" y="162.70" font-size="5.8" fill="#c8dcc8" textLength="17.00" lengthAdjust="spacingAndGlyphs">6823.19</text>
<path d="M715.2 169.4 L718.2 166.4 H736 V172.4 H718.2 Z" fill="#e020b0"/>
<text x="718.60" y="171.50" font-size="5.8" fill="#f0f0f0" textLength="17.00" lengthAdjust="spacingAndGlyphs">6769.15</text>
<path d="M715.2 183.2 L718.2 180.2 H736 V186.2 H718.2 Z" fill="#f2d000"/>
<text x="718.60" y="185.30" font-size="5.8" fill="#202020" textLength="17.00" lengthAdjust="spacingAndGlyphs">6683.79</text>
<rect x="2.5" y="78.3" width="87.2" height="47.2" fill="#0b0b0b" stroke="#1e1e1e" stroke-width="0.6"/>
<path d="M5.5 84 V121.5 M5.5 90 H7.5 M5.5 96 H7.5 M5.5 102.5 H7.5 M5.5 108 H7.5 M5.5 114 H7.5 M5.5 121 H7.5" stroke="#5a5a5a" stroke-width="0.5" fill="none"/>
<rect x="4.2" y="82.4" width="2.6" height="2.6" fill="none" stroke="#6a6a6a" stroke-width="0.5"/>
<rect x="8.2" y="81.9" width="4.5" height="3.9" fill="#f4f4f4"/>
<path d="M10.4 88 V92 M9.4 88 H11.4" stroke="#9a9a9a" stroke-width="0.5"/>
<path d="M8.8 96 H12 M10.4 95 V97" stroke="#9a9a9a" stroke-width="0.5"/>
<path d="M10.4 100.5 V104.3 M9.4 104.3 H11.4" stroke="#9a9a9a" stroke-width="0.5"/>
<rect x="8.2" y="105.9" width="4.5" height="4.1" fill="#ee10b8"/>
<rect x="8.2" y="112.1" width="4.5" height="4.1" fill="#20d040"/>
<rect x="8.2" y="118.3" width="4.5" height="4.2" fill="#f8dc00"/>
<text x="14.20" y="86.00" font-size="6.1" fill="#d6d2cd" textLength="24.00" lengthAdjust="spacingAndGlyphs">Last Price</text>
<text x="70.30" y="86.00" font-size="6.1" fill="#d6d2cd" textLength="17.40" lengthAdjust="spacingAndGlyphs">7126.06</text>
<text x="14.20" y="92.12" font-size="6.1" fill="#d6d2cd" textLength="41.00" lengthAdjust="spacingAndGlyphs">High on 04/17/26</text>
<text x="70.30" y="92.12" font-size="6.1" fill="#d6d2cd" textLength="17.40" lengthAdjust="spacingAndGlyphs">7147.52</text>
<text x="14.20" y="98.24" font-size="6.1" fill="#d6d2cd" textLength="18.30" lengthAdjust="spacingAndGlyphs">Average</text>
<text x="70.30" y="98.24" font-size="6.1" fill="#d6d2cd" textLength="17.40" lengthAdjust="spacingAndGlyphs">6516.30</text>
<text x="14.20" y="104.36" font-size="6.1" fill="#d6d2cd" textLength="40.00" lengthAdjust="spacingAndGlyphs">Low on 04/21/25</text>
<text x="70.30" y="104.36" font-size="6.1" fill="#d6d2cd" textLength="17.40" lengthAdjust="spacingAndGlyphs">5101.63</text>
<text x="14.20" y="110.48" font-size="6.1" fill="#d6d2cd" textLength="26.80" lengthAdjust="spacingAndGlyphs">SMAVG (50)</text>
<text x="44.80" y="110.48" font-size="6.1" fill="#d6d2cd" textLength="20.00" lengthAdjust="spacingAndGlyphs">on Close</text>
<text x="70.30" y="110.48" font-size="6.1" fill="#d6d2cd" textLength="17.40" lengthAdjust="spacingAndGlyphs">6769.15</text>
<text x="14.20" y="116.60" font-size="6.1" fill="#d6d2cd" textLength="29.80" lengthAdjust="spacingAndGlyphs">SMAVG (100)</text>
<text x="47.80" y="116.60" font-size="6.1" fill="#d6d2cd" textLength="20.00" lengthAdjust="spacingAndGlyphs">on Close</text>
<text x="70.30" y="116.60" font-size="6.1" fill="#d6d2cd" textLength="17.40" lengthAdjust="spacingAndGlyphs">6823.19</text>
<text x="14.20" y="122.72" font-size="6.1" fill="#d6d2cd" textLength="29.80" lengthAdjust="spacingAndGlyphs">SMAVG (200)</text>
<text x="47.80" y="122.72" font-size="6.1" fill="#d6d2cd" textLength="20.00" lengthAdjust="spacingAndGlyphs">on Close</text>
<text x="70.30" y="122.72" font-size="6.1" fill="#d6d2cd" textLength="17.40" lengthAdjust="spacingAndGlyphs">6683.79</text>
<text x="74.50" y="493.00" font-size="8.2" fill="#ffffff" stroke="#ffffff" stroke-width="0.18" font-family="'Liberation Mono', 'DejaVu Sans Mono', monospace" textLength="584.10" lengthAdjust="spacingAndGlyphs" xml:space="preserve">Australia 61 2 9777 8600 Brazil 5511 2395 9000 Europe 44 20 7330 7500 Germany 49 69 9204 1210 Hong Kong 852 2977 6000</text>
<text x="74.50" y="502.80" font-size="8.2" fill="#ffffff" stroke="#ffffff" stroke-width="0.18" font-family="'Liberation Mono', 'DejaVu Sans Mono', monospace" textLength="584.10" lengthAdjust="spacingAndGlyphs" xml:space="preserve">Japan 81 3 4565 8900      Singapore 65 6212 1000      U.S. 1 212 318 2000       Copyright 2026 Bloomberg Finance L.P.</text>
<text x="448.60" y="512.90" font-size="8.2" fill="#ffffff" stroke="#ffffff" stroke-width="0.18" font-family="'Liberation Mono', 'DejaVu Sans Mono', monospace" textLength="279.10" lengthAdjust="spacingAndGlyphs" xml:space="preserve">SN 5189102 EDT  GMT-4:00 ba1979-173 19-Apr-2026 08:57:59</text></svg>
</body></html>
